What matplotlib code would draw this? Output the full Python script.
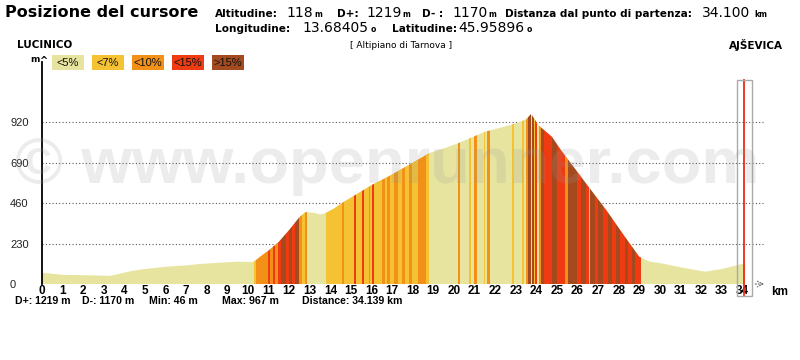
import numpy as np
import matplotlib.pyplot as plt
from matplotlib.patches import Polygon, Rectangle

# elevation profile (km, m)
km = [0, 0.5, 1, 2, 2.8, 3.3, 4.4, 5, 6, 7, 7.6, 8.5, 9.5, 10.2, 10.3, 10.7, 11.0,
      11.5, 12.0, 12.5, 12.8, 13.2, 13.5, 13.77, 14.2, 14.56, 15.2, 16.0, 16.8, 17.8,
      18.8, 19.5, 20.2, 21.5, 22.3, 23.0, 23.5, 23.75, 24.1, 24.76, 25.2, 26.4, 27.4,
      28.3, 29.0, 29.5, 30.0, 31.0, 32.2, 33.0, 33.8, 34.14]
elev = [64, 58, 52, 50, 48, 46, 75, 85, 98, 106, 113, 120, 127, 125, 128, 165, 190,
        240, 307, 380, 409, 405, 395, 403, 430, 460, 505, 562, 610, 676,
        744, 770, 800, 865, 890, 913, 935, 967, 903, 837, 761, 574, 420,
        269, 155, 127, 119, 95, 70, 85, 108, 118]

# gradient stripes: start km and class (0 <5%, 1 <7%, 2 <10%, 3 <15%, 4 >15%)
stripe_start = [0.0, 10.3, 10.4, 10.97, 11.07, 11.2, 11.33, 11.47, 11.62, 11.83, 11.99,
                12.15, 12.27, 12.48, 12.64, 12.75, 12.85, 13.77, 14.58, 14.65, 15.15,
                15.23, 15.55, 15.63, 15.88, 15.95, 16.03, 16.13, 16.52, 16.65, 16.76,
                16.88, 17.1, 17.3, 17.47, 17.63, 17.82, 17.95, 18.27, 18.65, 18.78,
                20.2, 20.32, 20.75, 20.83, 21.0, 21.1, 21.45, 21.53, 21.6, 21.75,
                22.8, 22.9, 23.3, 23.4, 23.5, 23.62, 23.72, 23.8, 23.9, 23.95, 24.05,
                24.13, 24.25, 24.37, 24.77, 25.0, 25.4, 25.55, 26.0, 26.18, 26.4,
                26.55, 26.62, 26.85, 27.0, 27.25, 27.5, 27.67, 27.85, 28.08, 28.3,
                28.47, 28.67, 28.8, 29.1]
stripe_class = [0, 1, 2, 3, 2, 3, 2, 3, 4, 3, 4,
                3, 4, 2, 1, 2, 0, 1, 2, 1, 3,
                1, 3, 1, 2, 1, 3, 1, 2, 1, 2,
                1, 2, 1, 2, 1, 2, 1, 2, 1, 0,
                2, 0, 1, 0, 2, 0, 1, 0, 2, 0,
                1, 0, 1, 0, 2, 4, 0, 4, 1, 3, 0,
                2, 4, 3, 4, 3, 2, 4, 3, 4, 3,
                1, 4, 3, 4, 3, 4, 3, 4, 3, 4,
                3, 4, 3, 0]
route_end = 34.14

grade_labels = ['<5%', '<7%', '<10%', '<15%', '>15%']
grade_colors = ['#e6e49f', '#f4c232', '#f39018', '#ee3b12', '#a54a1f']

y_ticks = [0, 230, 460, 690, 920]
x_ticks = list(range(35))
cursor_km = 34.1

W, H = 800, 360
fig = plt.figure(figsize=(8, 3.6), dpi=100)
fig.patch.set_facecolor('white')


def fx(x):
    return x / W


def fy(y):
    return 1 - y / H


ax = fig.add_axes([fx(42), fy(284), fx(769) - fx(42), fy(62) - fy(284)])
ax.set_xlim(0, 35.3)
ax.set_ylim(0, 1262)
ax.set_facecolor('none')
for side in ['top', 'right', 'bottom']:
    ax.spines[side].set_visible(False)
ax.spines['left'].set_linewidth(1.3)
ax.spines['left'].set_zorder(6)

# dotted grid
for t in y_ticks[1:]:
    ax.plot([0, 35.0], [t, t], ls=(0, (1, 2)), color='#555555', lw=0.8, zorder=1)

# profile filled with the gradient stripes
verts = np.column_stack([[km[0]] + km + [km[-1]], [0] + elev + [0]])
profile = Polygon(verts, closed=True, facecolor=grade_colors[0], lw=0, zorder=2)
ax.add_patch(profile)
ends = stripe_start[1:] + [route_end]
for s, e, c in zip(stripe_start, ends, stripe_class):
    if c == 0:
        continue
    band = ax.axvspan(s, e, color=grade_colors[c], lw=0, zorder=3)
    band.set_clip_path(profile)

ax.set_xticks(x_ticks)
ax.set_xticklabels([str(k) for k in x_ticks], fontsize=8.5, fontweight='bold',
                   family='Liberation Sans')
ax.tick_params(axis='x', length=0, pad=0.5)
ax.set_yticks(y_ticks)
ax.set_yticklabels([str(t) for t in y_ticks], fontsize=8, family='Liberation Sans',
                   color='#222222')
ax.tick_params(axis='y', length=0, pad=23)
for lab in ax.get_yticklabels():
    lab.set_horizontalalignment('left')

ax.annotate('', xy=(35.2, 0), xytext=(34.5, 0), annotation_clip=False,
            arrowprops=dict(arrowstyle='->', ls=':', color='#666666', lw=0.8))
fig.text(fx(771), fy(292), 'km', fontsize=8.5, fontweight='bold',
         family='Liberation Sans', va='center')

# cursor
ax.plot([cursor_km, cursor_km], [-60, 1160], color='#ee2a10', lw=1.3,
        clip_on=False, zorder=5)
ax.add_patch(Rectangle((cursor_km - 0.37, -68), 0.74, 1228, fill=False,
                       ec='#aaaaaa', lw=1, clip_on=False, zorder=5))

# watermark
fig.text(fx(15), fy(183), '\u00a9 www.openrunner.com', fontsize=47, fontweight='bold',
         family='Liberation Sans', color='#999999', alpha=0.18, zorder=10)

# legend boxes
fig.text(fx(30), fy(60), 'm', fontsize=6.5, fontweight='bold', va='center')
fig.text(fx(43), fy(61), '^', fontsize=7, fontweight='bold', ha='center', va='center')
for i, (lab, col) in enumerate(zip(grade_labels, grade_colors)):
    x0 = 52 + 40 * i
    fig.add_artist(Rectangle((fx(x0), fy(70)), 32 / W, 15 / H,
                             transform=fig.transFigure, fc=col, lw=0))
    fig.text(fx(x0 + 16), fy(62.5), lab, fontsize=8, ha='center', va='center',
             family='Liberation Sans', color='#111111')

# header
fig.text(fx(5), fy(17), 'Posizione del cursore', fontsize=11.5, fontweight='bold',
         va='baseline')
lab_kw = dict(fontsize=7.6, fontweight='bold', va='baseline')
val_kw = dict(fontsize=10, va='baseline')
unit_kw = dict(fontsize=5.5, fontweight='bold', va='baseline')
header = [
    (215, 17, 'Altitudine:', lab_kw), (286, 17, '118', val_kw), (314, 17, 'm', unit_kw),
    (337, 17, 'D+:', lab_kw), (366, 17, '1219', val_kw), (402, 17, 'm', unit_kw),
    (422, 17, 'D- :', lab_kw), (452, 17, '1170', val_kw), (488, 17, 'm', unit_kw),
    (505, 17, 'Distanza dal punto di partenza:', lab_kw), (702, 17, '34.100', val_kw),
    (754, 17, 'km', unit_kw),
    (215, 32, 'Longitudine:', lab_kw), (302, 32, '13.68405', val_kw),
    (371, 32, 'o', unit_kw),
    (392, 32, 'Latitudine:', lab_kw), (458, 32, '45.95896', val_kw),
    (527, 32, 'o', unit_kw),
]
for x, y, s, kw in header:
    fig.text(fx(x), fy(y), s, **kw)

fig.text(fx(17), fy(45), 'LUCINICO', fontsize=7.5, fontweight='bold', va='center')
fig.text(fx(401), fy(45), '[ Altipiano di Tarnova ]', fontsize=6.5, ha='center',
         va='center')
fig.text(fx(783), fy(45), 'AJ\u0160EVICA', fontsize=7.5, fontweight='bold', ha='right',
         va='center')

# summary line
stats = [(15, 'D+: 1219 m'), (82, 'D-: 1170 m'), (149, 'Min: 46 m'),
         (222, 'Max: 967 m'), (302, 'Distance: 34.139 km')]
for x, s in stats:
    fig.text(fx(x), fy(304), s, fontsize=7.6, fontweight='bold',
             family='Liberation Sans', va='baseline')

fig.savefig('out.png', dpi=100)
